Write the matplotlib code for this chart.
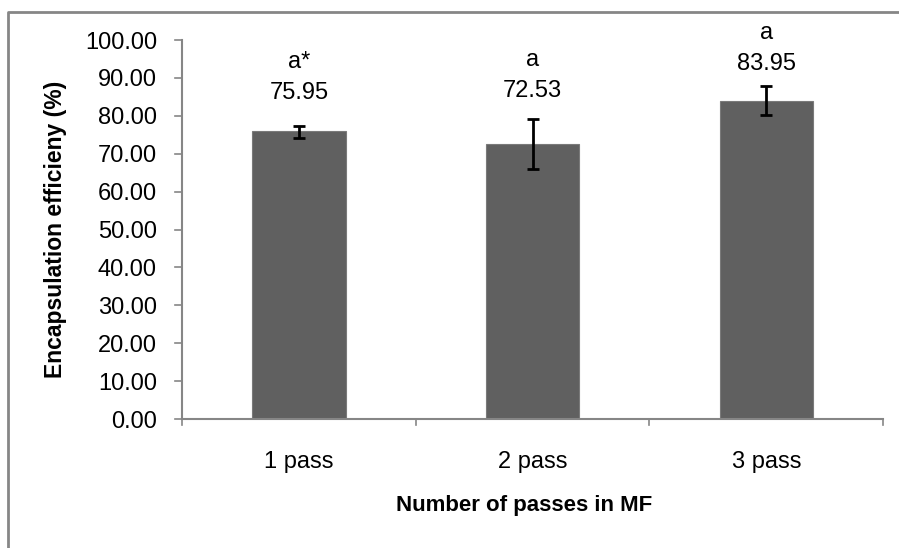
import matplotlib.pyplot as plt
import numpy as np
from matplotlib.lines import Line2D

plt.rcParams['font.family'] = ['Liberation Sans', 'DejaVu Sans']

passes = ['1 pass', '2 pass', '3 pass']
efficiency = [75.95, 72.53, 83.95]
err_low = [1.85, 6.5, 3.75]
err_high = [1.25, 6.55, 3.95]
letters = ['a*', 'a', 'a']
label_y = [86.1, 86.6, 93.7]

fig = plt.figure(figsize=(8.99, 5.48), dpi=100, facecolor='white')
ax = fig.add_axes([0.2024, 0.2354, 0.78, 0.6916])

axis_grey = '#868686'
x = np.arange(len(passes))
ax.bar(x, efficiency, width=0.4, color='#606060', edgecolor='#7a7a7a', linewidth=0.8, zorder=2)
ax.errorbar(x, efficiency, yerr=[err_low, err_high], fmt='none', ecolor='black',
            elinewidth=2, capsize=4, capthick=2, zorder=3)

for xi, v, letter, ly in zip(x, efficiency, letters, label_y):
    ax.text(xi, ly, f'{v:.2f}', ha='center', va='center', fontsize=17, color='black')
    ax.text(xi, ly + 8.1, letter, ha='center', va='center', fontsize=17, color='black')

ax.set_xlim(-0.5, 2.5)
ax.set_ylim(0, 100)
ax.set_yticks(np.arange(0, 101, 10))
ax.set_yticklabels([f'{t:.2f}' for t in np.arange(0, 101, 10)])
ax.set_xticks(x)
ax.set_xticklabels(passes)
ax.tick_params(axis='y', length=0, labelsize=17, pad=18)
ax.tick_params(axis='x', length=0, labelsize=17, pad=23)

# category boundary ticks below the x axis, value ticks left of the y axis
for b in [-0.5, 0.5, 1.5, 2.5]:
    ax.plot([b, b], [0, -1.6], color=axis_grey, lw=1.2, clip_on=False)
for t in np.arange(0, 101, 10):
    ax.plot([-0.5, -0.53], [t, t], color=axis_grey, lw=1.2, clip_on=False)

for side in ['top', 'right']:
    ax.spines[side].set_visible(False)
for side in ['left', 'bottom']:
    ax.spines[side].set_color(axis_grey)
    ax.spines[side].set_linewidth(1.5)

ax.set_ylabel('Encapsulation efficieny (%)', fontsize=16.5, fontweight='bold', labelpad=13)
ax.set_xlabel('Number of passes in MF', fontsize=16, fontweight='bold')
ax.xaxis.set_label_coords(0.488, -0.2)

# chart area border (top and left edges)
W, H = 899, 548
fig.add_artist(Line2D([8 / W, 8 / W, 1.0], [0.0, 1 - 12 / H, 1 - 12 / H],
                      transform=fig.transFigure, color=axis_grey, lw=2))

fig.savefig('out.png', dpi=100, facecolor='white')
